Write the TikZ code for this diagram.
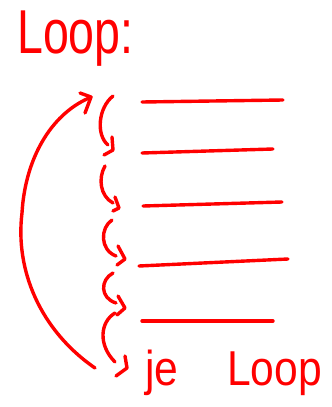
\documentclass[tikz,border=0pt]{standalone}
\usepackage{fontspec}
\setmainfont{Liberation Sans}
\usepackage{tikz}
\usetikzlibrary{arrows.meta}

\begin{document}
\begin{tikzpicture}[
  x=1pt,y=-1pt,
  pen/.style={draw=red,line width=3.4pt,line cap=round,line join=round},
  word/.style={text=red,inner sep=0pt,anchor=base west}
]
  \useasboundingbox (0,0) rectangle (332,407);
  \node[word,font=\fontsize{62}{62}\selectfont,xscale=0.75] (head) at (17,53) {Loop:};
  \node[word,font=\fontsize{49}{49}\selectfont,xscale=0.87] (tail) at (145,385) {je\hspace{56pt}Loop};
  % steps
  \draw[pen] (142,102) -- (283,100);
  \draw[pen] (142,153) -- (273,149);
  \draw[pen] (143,206) -- (282,202);
  \draw[pen] (139,266) -- (288,259);
  \draw[pen] (142,321) -- (273,321);
  % small arrows
  \draw[pen] (113,96) .. controls (98,108) and (96,135) .. (108,145);
  \draw[pen] (112,137) -- (113,150) -- (104,155);
  \draw[pen] (105,166) .. controls (98,178) and (100,196) .. (113,203);
  \draw[pen] (115,197) -- (119,208) -- (113,211);
  \draw[pen] (112,220) .. controls (100,228) and (100,250) .. (116,256);
  \draw[pen] (118,246) -- (125,259) -- (117,265);
  \draw[pen] (113,273) .. controls (100,280) and (100,298) .. (116,303);
  \draw[pen] (118,296) -- (125,308) -- (117,315);
  \draw[pen] (115,313) .. controls (100,322) and (98,345) .. (115,362);
  \draw[pen] (125,356) -- (127,368) -- (116,376);
  % back to start
  \draw[pen] (95,368) .. controls (40,330) and (15,270) .. (22,213)
    .. controls (25,160) and (50,115) .. (89,98);
  \draw[pen] (80,93) -- (91,97) -- (85,113);
\end{tikzpicture}
\end{document}
